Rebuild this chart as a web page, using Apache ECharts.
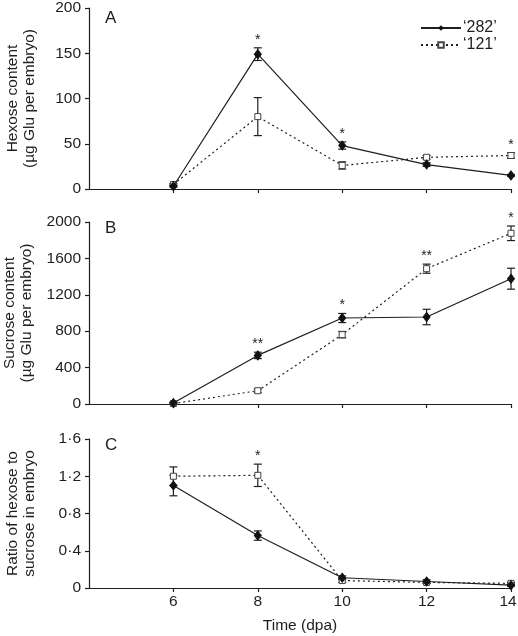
<!DOCTYPE html>
<html><head><meta charset="utf-8">
<script src="https://cdn.jsdelivr.net/npm/echarts@6/dist/echarts.min.js"></script>
<style>html,body{margin:0;padding:0;background:#fff}#c{width:518px;height:636px}</style>
</head><body><div id="c"></div>
<script>
const days = [6, 8, 10, 12, 14];
const xTicks = [6, 8, 10, 12, 14];
const hex282 = [3, 149, 48, 27, 15];
const hex282Err = [1, 7, 4, 2, 1];
const hex121 = [5, 80, 26, 35, 37];
const hex121Err = [1, 21, 4, 2, 3];
const suc282 = [10, 534, 945, 956, 1377];
const suc282Err = [10, 35, 50, 85, 115];
const suc121 = [5, 146, 762, 1487, 1876];
const suc121Err = [10, 20, 35, 50, 80];
const rat282 = [1.10, 0.563, 0.11, 0.07, 0.03];
const rat282Err = [0.11, 0.05, 0.02, 0.02, 0.01];
const rat121 = [1.20, 1.21, 0.08, 0.06, 0.05];
const rat121Err = [0.10, 0.12, 0.02, 0.01, 0.01];
const starsA = ['', '*', '*', '', '*'];
const starsB = ['', '**', '*', '**', '*'];
const starsC = ['', '*', '', '', ''];
const panelLetters = ['A', 'B', 'C'];
const yTitles = ['Hexose content\n(µg Glu per embryo)', 'Sucrose content\n(µg Glu per embryo)', 'Ratio of hexose to\nsucrose in embryo'];
const name282 = '\u2018282\u2019', name121 = '\u2018121\u2019';

const FONT = 'Liberation Sans';
const INK = '#1e1e1e';
const chart = echarts.init(document.getElementById('c'));

const panels = [
  {m282: hex282, e282: hex282Err, m121: hex121, e121: hex121Err, stars: starsA, min: 0, max: 200, interval: 50},
  {m282: suc282, e282: suc282Err, m121: suc121, e121: suc121Err, stars: starsB, min: 0, max: 2000, interval: 400},
  {m282: rat282, e282: rat282Err, m121: rat121, e121: rat121Err, stars: starsC, min: 0, max: 1.6, interval: 0.4}
];
const grids = [
  {left: 89, right: 7, top: 8, height: 181, containLabel: false, outerBoundsMode: 'none'},
  {left: 89, right: 7, top: 222, height: 182, containLabel: false, outerBoundsMode: 'none'},
  {left: 89, right: 7, top: 439, height: 149, containLabel: false, outerBoundsMode: 'none'}
];

function errRender(params, api) {
  const x = api.value(0);
  const lo = api.coord([x, api.value(1)]);
  const hi = api.coord([x, api.value(2)]);
  const w = 4;
  const st = {stroke: INK, lineWidth: 1.2};
  return {type: 'group', children: [
    {type: 'line', shape: {x1: lo[0], y1: lo[1], x2: hi[0], y2: hi[1]}, style: st},
    {type: 'line', shape: {x1: lo[0] - w, y1: lo[1], x2: lo[0] + w, y2: lo[1]}, style: st},
    {type: 'line', shape: {x1: hi[0] - w, y1: hi[1], x2: hi[0] + w, y2: hi[1]}, style: st}
  ]};
}

const xAxes = [], yAxes = [], series = [];
panels.forEach((p, i) => {
  xAxes.push({
    type: 'value', gridIndex: i, min: 4, max: 14, interval: 2,
    axisLine: {lineStyle: {color: INK, width: 1.2}},
    axisTick: {show: true, length: 4, customValues: xTicks, lineStyle: {color: INK, width: 1.2}},
    axisLabel: {show: i === 2, customValues: xTicks, margin: 6, fontFamily: FONT, fontSize: 15.5, color: INK,
      formatter: v => v === 14 ? '{e|14}' : String(v),
      rich: {e: {fontFamily: FONT, fontSize: 15.5, color: INK, padding: [0, 6, 0, 0]}}},
    splitLine: {show: false},
    name: i === 2 ? 'Time (dpa)' : '', nameLocation: 'middle', nameGap: 30,
    nameTextStyle: {fontFamily: FONT, fontSize: 15.5, color: INK}
  });
  yAxes.push({
    type: 'value', gridIndex: i, min: p.min, max: p.max, interval: p.interval,
    axisLine: {show: true, lineStyle: {color: INK, width: 1.2}},
    axisTick: {show: true, length: 4, lineStyle: {color: INK, width: 1.2}},
    axisLabel: {margin: 8, fontFamily: FONT, fontSize: 15.5, color: INK,
      formatter: v => i === 2 ? String(+v.toFixed(1)).replace('.', '\u00B7') : String(Math.round(v))},
    splitLine: {show: false},
    name: yTitles[i], nameLocation: 'middle', nameRotate: 90, nameGap: 51,
    nameTextStyle: {fontFamily: FONT, fontSize: 15.5, color: INK, lineHeight: 17}
  });
  series.push({
    type: 'line', name: name121, xAxisIndex: i, yAxisIndex: i,
    data: days.map((d, k) => [d, p.m121[k]]),
    symbol: 'rect', symbolSize: 6, z: 3,
    lineStyle: {color: INK, width: 1.2, type: [2, 3]},
    itemStyle: {color: '#fff', borderColor: '#444', borderWidth: 1}
  });
  series.push({
    type: 'line', name: name282, xAxisIndex: i, yAxisIndex: i,
    data: days.map((d, k) => [d, p.m282[k]]),
    symbol: 'diamond', symbolSize: [7, 9], z: 4,
    lineStyle: {color: INK, width: 1.2, type: 'solid'},
    itemStyle: {color: '#111', borderColor: '#111'}
  });
  series.push({
    type: 'custom', xAxisIndex: i, yAxisIndex: i, renderItem: errRender, z: 2,
    data: days.map((d, k) => [d, p.m282[k] - p.e282[k], p.m282[k] + p.e282[k]])
  });
  series.push({
    type: 'custom', xAxisIndex: i, yAxisIndex: i, renderItem: errRender, z: 2,
    data: days.map((d, k) => [d, p.m121[k] - p.e121[k], p.m121[k] + p.e121[k]])
  });
  series.push({
    type: 'custom', xAxisIndex: i, yAxisIndex: i, z: 5,
    data: days.map((d, k) => [d, Math.max(p.m282[k] + p.e282[k], p.m121[k] + p.e121[k])]),
    renderItem: (params, api) => {
      const s = p.stars[params.dataIndex];
      if (!s) return null;
      const pt = api.coord([api.value(0), api.value(1)]);
      return {type: 'text', style: {text: s, x: pt[0], y: pt[1] - 1, align: 'center', verticalAlign: 'bottom',
        fontFamily: FONT, fontSize: 14, fill: INK}};
    }
  });
});

const letterTop = [10, 220, 437];
chart.setOption({
  animation: false,
  backgroundColor: '#fff',
  grid: grids,
  xAxis: xAxes,
  yAxis: yAxes,
  legend: {
    data: [name282, name121], orient: 'vertical', left: 415, top: 15,
    itemWidth: 40, itemHeight: 7, itemGap: 1,
    textStyle: {fontFamily: FONT, fontSize: 16, color: INK, padding: [0, 0, 0, -3]}
  },
  graphic: panelLetters.map((L, i) => ({
    type: 'text', left: 105, top: letterTop[i],
    style: {text: L, fontFamily: FONT, fontSize: 17, fill: INK}
  })),
  series: series
});
</script></body></html>
